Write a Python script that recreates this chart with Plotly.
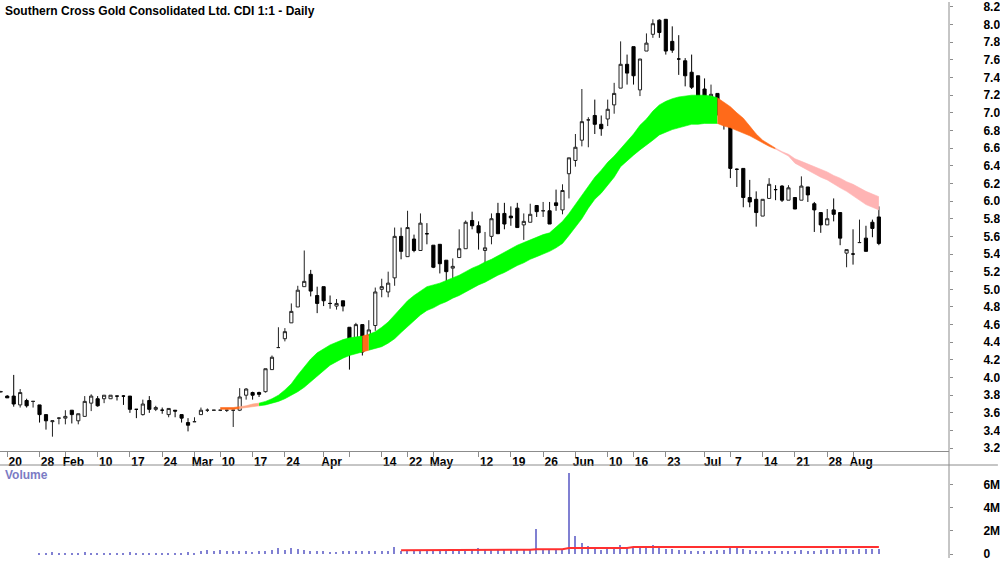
import plotly.graph_objects as go

# ---------------- data ----------------
candle_idx = list(range(1, 138))   # trading-day index, 1 = Jan 17 (partial), 2 = Jan 20 ...

opens = [3.84,3.79,3.79,3.69,3.74,3.73,3.69,3.58,3.50,3.54,
         3.54,3.63,3.51,3.56,3.71,3.76,3.76,3.76,3.79,3.79,
         3.79,3.64,3.58,3.74,3.64,3.63,3.58,3.63,3.58,3.49,
         3.50,3.58,3.63,3.63,3.63,3.63,3.63,3.63,3.80,3.83,
         3.83,3.84,4.09,4.34,4.44,4.62,4.80,5.03,5.17,4.93,
         5.03,4.84,4.81,4.87,4.57,4.40,4.60,4.48,4.59,5.00,
         4.97,5.13,5.60,5.37,5.57,5.44,5.63,5.50,5.51,5.33,
         5.24,5.36,5.46,5.78,5.72,5.44,5.60,5.86,5.86,5.83,
         5.92,5.73,5.76,5.95,5.89,5.89,5.98,5.90,6.31,6.46,
         6.69,6.92,6.97,6.87,6.93,7.09,7.28,7.55,7.75,7.26,
         7.70,7.89,8.05,8.06,7.81,7.61,7.59,7.46,7.42,7.27,
         7.14,7.22,7.02,6.86,6.36,6.37,6.04,6.02,5.83,6.03,
         6.13,6.17,6.01,6.04,6.01,6.16,5.97,5.87,5.73,5.90,
         5.87,5.41,5.40,5.53,5.58,5.76,5.82]
highs = [3.85,3.80,4.03,3.87,3.76,3.73,3.69,3.58,3.51,3.55,
         3.63,3.63,3.59,3.79,3.81,3.79,3.80,3.80,3.79,3.80,
         3.79,3.64,3.75,3.79,3.68,3.66,3.65,3.63,3.58,3.54,
         3.55,3.66,3.65,3.63,3.63,3.63,3.63,3.88,3.88,3.84,
         3.84,4.10,4.25,4.57,4.56,4.84,5.04,5.44,5.22,5.03,
         5.03,4.93,4.89,4.87,4.57,4.62,4.60,4.65,5.02,5.12,
         5.20,5.70,5.70,5.89,5.62,5.86,5.75,5.50,5.51,5.33,
         5.35,5.68,5.78,5.88,5.77,5.65,5.86,5.98,5.98,5.94,
         5.98,5.86,5.97,5.95,5.99,5.99,6.13,6.19,6.49,6.76,
         7.27,6.95,7.15,6.97,7.15,7.34,7.81,7.66,7.75,7.61,
         7.90,8.06,8.06,8.06,7.98,7.88,7.62,7.66,7.42,7.39,
         7.32,7.22,7.10,6.86,6.37,6.37,6.24,6.11,6.02,6.26,
         6.18,6.18,6.18,6.04,6.28,6.16,5.99,5.87,5.91,6.03,
         5.87,5.45,5.68,5.79,5.72,5.79,5.94]
lows = [3.83,3.77,3.67,3.66,3.66,3.66,3.49,3.41,3.33,3.47,
        3.47,3.48,3.47,3.56,3.62,3.67,3.71,3.76,3.74,3.69,
        3.60,3.54,3.57,3.60,3.62,3.59,3.55,3.55,3.49,3.39,
        3.50,3.58,3.61,3.63,3.62,3.61,3.44,3.62,3.75,3.75,
        3.78,3.83,4.09,4.34,4.41,4.62,4.80,5.03,4.92,4.73,
        4.81,4.78,4.77,4.75,4.09,4.40,4.25,4.48,4.53,4.91,
        4.91,5.04,5.34,5.37,5.42,5.44,5.51,5.24,5.18,5.09,
        5.12,5.36,5.46,5.68,5.45,5.25,5.51,5.63,5.68,5.72,
        5.70,5.56,5.76,5.82,5.82,5.74,5.89,5.85,6.03,6.39,
        6.62,6.61,6.76,6.74,6.85,6.99,7.28,7.32,7.32,7.19,
        7.70,7.85,7.85,7.66,7.68,7.43,7.30,7.27,6.95,6.91,
        7.14,6.97,6.81,6.26,6.16,5.93,5.93,5.71,5.83,6.03,
        6.01,5.99,6.01,5.91,6.01,5.99,5.65,5.64,5.73,5.77,
        5.50,5.25,5.28,5.53,5.43,5.59,5.50]
closes = [3.84,3.77,3.70,3.83,3.68,3.73,3.58,3.51,3.51,3.54,
          3.56,3.58,3.59,3.73,3.79,3.68,3.80,3.80,3.79,3.79,
          3.64,3.64,3.70,3.64,3.66,3.63,3.65,3.62,3.54,3.46,
          3.50,3.63,3.63,3.63,3.63,3.63,3.63,3.78,3.87,3.80,
          3.81,4.10,4.23,4.34,4.52,4.75,4.99,5.09,4.98,4.84,
          4.87,4.84,4.84,4.81,4.43,4.60,4.29,4.54,4.97,5.03,
          5.07,5.60,5.43,5.70,5.44,5.75,5.63,5.25,5.29,5.20,
          5.26,5.46,5.76,5.72,5.64,5.47,5.80,5.63,5.74,5.81,
          5.70,5.77,5.85,5.88,5.89,5.74,5.95,6.12,6.49,6.61,
          6.90,6.92,6.87,6.82,7.04,7.22,7.55,7.45,7.42,7.61,
          7.79,8.01,7.91,7.70,7.71,7.61,7.42,7.29,7.19,7.17,
          7.21,7.10,6.87,6.37,6.36,6.04,5.99,5.87,6.02,6.19,
          6.13,6.01,6.15,5.91,6.17,6.07,5.90,5.73,5.80,5.85,
          5.58,5.45,5.40,5.53,5.43,5.69,5.52]

# moving-average ribbon (upper / lower edge), candles 35..137
ribbon_idx = list(range(35, 138))
ribbon_upper = [3.66,3.66,3.66,3.67,3.68,3.70,3.71,3.73,3.76,3.80,
                3.86,3.93,4.03,4.12,4.21,4.28,4.33,4.37,4.40,4.43,
                4.45,4.46,4.47,4.49,4.52,4.57,4.63,4.71,4.79,4.87,
                4.93,4.98,5.03,5.05,5.07,5.10,5.13,5.16,5.20,5.24,
                5.27,5.31,5.34,5.38,5.42,5.46,5.50,5.53,5.56,5.59,
                5.62,5.64,5.70,5.77,5.86,5.96,6.06,6.16,6.27,6.35,
                6.44,6.51,6.59,6.67,6.76,6.86,6.93,7.02,7.09,7.13,
                7.16,7.18,7.19,7.20,7.20,7.20,7.19,7.17,7.12,7.07,
                7.00,6.94,6.85,6.76,6.69,6.64,6.60,6.56,6.53,6.48,
                6.45,6.42,6.39,6.36,6.33,6.29,6.26,6.22,6.19,6.15,
                6.11,6.08,6.05]
ribbon_lower = [3.64,3.64,3.64,3.65,3.66,3.67,3.68,3.69,3.71,3.73,
                3.76,3.80,3.84,3.89,3.95,4.02,4.08,4.14,4.18,4.22,
                4.25,4.27,4.29,4.31,4.33,4.35,4.39,4.44,4.51,4.58,
                4.65,4.71,4.76,4.79,4.83,4.86,4.90,4.93,4.97,5.01,
                5.05,5.08,5.12,5.16,5.19,5.23,5.27,5.30,5.34,5.37,
                5.40,5.43,5.47,5.52,5.61,5.70,5.80,5.92,6.02,6.09,
                6.18,6.27,6.39,6.46,6.52,6.58,6.63,6.69,6.75,6.78,
                6.81,6.83,6.85,6.87,6.87,6.88,6.88,6.88,6.85,6.83,
                6.80,6.77,6.74,6.70,6.66,6.62,6.59,6.55,6.51,6.43,
                6.39,6.35,6.31,6.27,6.24,6.19,6.15,6.11,6.06,6.00,
                5.96,5.93,5.90]

# volume (millions of shares)
volume_m = [0,0,0,0,0,0,
            0.12,0.10,0.14,0.10,0.12,0.10,0.12,0.14,0.12,0.10,0.12,0.10,0.10,0.12,
            0.14,0.10,0.12,0.12,0.10,0.10,0.12,0.10,0.12,0.14,0.12,
            0.30,0.38,0.30,0.33,0.25,0.30,0.28,0.25,0.22,0.25,0.30,0.35,0.55,0.35,
            0.50,0.48,0.35,0.30,0.28,0.25,0.22,0.20,0.25,0.30,0.25,0.30,0.25,0.28,
            0.25,0.30,0.57,
            0.30,0.35,0.30,0.28,0.30,0.25,0.30,0.28,0.30,0.32,0.30,0.40,0.50,0.42,
            0.45,0.40,0.38,0.35,0.40,0.38,0.36,
            2.20,
            0.38,0.35,0.33,0.40,
            7.00,1.60,1.00,0.66,
            0.40,0.35,0.45,0.42,
            0.80,
            0.55,0.50,0.50,0.60,
            0.75,
            0.50,0.45,0.40,0.38,0.35,0.30,0.30,0.28,0.30,0.32,0.35,
            0.60,
            0.50,0.45,0.35,0.30,0.28,0.25,0.28,0.30,0.25,0.30,0.32,0.28,0.30,
            0.35,0.40,0.38,0.42,0.40,0.38,0.40,0.42,0.45,0.42]

vol_ma_idx = list(range(63, 138))
vol_ma_m = [0.33]*12 + [0.37]*9 + [0.41]*5 + [0.53]*10 + [0.62]*39

# x-axis ticks (candle index) and labels
tick_idx = [2, 7, 11, 16, 21, 26, 31, 35, 40, 45, 51, 55, 60, 64, 68, 75, 80,
            85, 90, 95, 99, 104, 110, 114, 119, 124, 129, 133]
tick_labels = ["20", "28", "Feb", "10", "17", "24", "Mar", "10", "17", "24", "Apr", "",
               "14", "22", "May", "12", "19", "26", "Jun", "10", "16", "23", "Jul",
               "7", "14", "21", "28", "Aug"]

price_ticks = [3.2, 3.4, 3.6, 3.8, 4.0, 4.2, 4.4, 4.6, 4.8, 5.0, 5.2, 5.4, 5.6, 5.8,
               6.0, 6.2, 6.4, 6.6, 6.8, 7.0, 7.2, 7.4, 7.6, 7.8, 8.0, 8.2]
vol_ticks = [0, 2e6, 4e6, 6e6]
vol_tick_labels = ["0", "2M", "4M", "6M"]

title_text = "Southern Cross Gold Consolidated Ltd. CDI 1:1 - Daily"

assert len(opens) == len(highs) == len(lows) == len(closes) == len(candle_idx)
assert len(ribbon_upper) == len(ribbon_lower) == len(ribbon_idx)
assert len(volume_m) == len(candle_idx)
assert len(vol_ma_m) == len(vol_ma_idx)

# ---------------- styling ----------------
FONT = "Liberation Sans Narrow, Arial Narrow, Liberation Sans, Arial, sans-serif"
W, H = 1000, 562
PLOT_R = 951            # right edge of plot area (px)
PRICE_BOTTOM = 454      # px from top
VOL_TOP = 468           # px from top
AXIS_COL = "#8c8c8c"

GREEN = "#00ff00"
ORANGE = "#ff6a1a"
SALMON = "#ffa888"
PINK = "#ffb4b4"
ribbon_segments = [(35, 38, ORANGE), (38, 41, SALMON), (41, 57, GREEN), (57, 58, ORANGE),
                   (58, 112, GREEN), (112, 121, ORANGE), (121, 137, PINK)]

fig = go.Figure()

for s, e, col in ribbon_segments:
    xs = [i for i in ribbon_idx if s <= i <= e]
    lo = [ribbon_lower[i - ribbon_idx[0]] for i in xs]
    up = [ribbon_upper[i - ribbon_idx[0]] for i in xs]
    fig.add_trace(go.Scatter(x=xs, y=lo, mode="lines", line=dict(width=0.6, color=col),
                             hoverinfo="skip", showlegend=False, xaxis="x", yaxis="y"))
    fig.add_trace(go.Scatter(x=xs, y=up, mode="lines", line=dict(width=0.6, color=col),
                             fill="tonexty", fillcolor=col,
                             hoverinfo="skip", showlegend=False, xaxis="x", yaxis="y"))

fig.add_trace(go.Candlestick(
    x=candle_idx, open=opens, high=highs, low=lows, close=closes,
    increasing=dict(line=dict(color="#222222", width=1), fillcolor="white"),
    decreasing=dict(line=dict(color="#000000", width=1), fillcolor="black"),
    whiskerwidth=0, showlegend=False, xaxis="x", yaxis="y"))

fig.add_trace(go.Bar(x=candle_idx, y=[v * 1e6 for v in volume_m], width=0.22,
                     marker=dict(color="#8080d2", line=dict(width=0)),
                     showlegend=False, xaxis="x2", yaxis="y2"))
fig.add_trace(go.Scatter(x=vol_ma_idx, y=[v * 1e6 for v in vol_ma_m], mode="lines",
                         line=dict(color="#ff3030", width=2),
                         showlegend=False, xaxis="x2", yaxis="y2"))

spacing = 6.47           # px per trading day
x0_px = 0.8              # pixel position of candle 1
x_lo = 1 - x0_px / spacing
x_hi = x_lo + PLOT_R / spacing

tickfont = dict(family=FONT, size=12, color="black", weight="bold")

fig.update_layout(
    width=W, height=H,
    margin=dict(l=0, r=W - PLOT_R, t=0, b=0),
    paper_bgcolor="white", plot_bgcolor="white",
    showlegend=False, bargap=0,
    xaxis=dict(domain=[0, 1], range=[x_lo, x_hi], anchor="y",
               tickmode="array", tickvals=tick_idx, ticktext=tick_labels,
               ticks="outside", ticklen=5, tickcolor=AXIS_COL, tickwidth=1,
               showline=True, linecolor=AXIS_COL, linewidth=1,
               showgrid=False, zeroline=False,
               rangeslider=dict(visible=False),
               tickfont=tickfont, ticklabelshift=8, ticklabelstandoff=-6),
    yaxis=dict(domain=[1 - PRICE_BOTTOM / H, 1], range=[3.166, 8.256], anchor="x",
               side="right", tickmode="array", tickvals=price_ticks,
               ticktext=[f"{v:.1f}" for v in price_ticks],
               ticks="outside", ticklen=3, tickcolor=AXIS_COL,
               showline=False, showgrid=False, zeroline=False,
               tickfont=tickfont, ticklabelstandoff=28, ticklabeloverflow="allow"),
    xaxis2=dict(domain=[0, 1], anchor="y2", matches="x", visible=False,
                rangeslider=dict(visible=False)),
    yaxis2=dict(domain=[0, (H - VOL_TOP) / H], range=[-0.343e6, 7.725e6], anchor="x2",
                side="right", tickmode="array", tickvals=vol_ticks, ticktext=vol_tick_labels,
                ticks="outside", ticklen=3, tickcolor=AXIS_COL,
                showline=False, showgrid=False, zeroline=False,
                tickfont=tickfont, ticklabelstandoff=28, ticklabeloverflow="allow"),
    shapes=[
        dict(type="line", xref="paper", yref="paper", x0=1, x1=1, y0=0, y1=1,
             line=dict(color=AXIS_COL, width=1)),
        dict(type="line", xref="paper", yref="paper", x0=0, x1=W / PLOT_R,
             y0=(H - VOL_TOP) / H, y1=(H - VOL_TOP) / H,
             line=dict(color=AXIS_COL, width=1)),
    ],
    annotations=[
        dict(text=title_text, xref="paper", yref="paper", x=3 / PLOT_R, y=1 - 9 / H,
             xanchor="left", yanchor="middle", showarrow=False,
             font=dict(family=FONT, size=12, color="black", weight="bold")),
        dict(text="Volume", xref="paper", yref="paper", x=3 / PLOT_R, y=(H - 478) / H,
             xanchor="left", yanchor="middle", showarrow=False,
             font=dict(family=FONT, size=12, color="#7b7bc4", weight="bold")),
    ],
)

fig.write_html("out.html")
